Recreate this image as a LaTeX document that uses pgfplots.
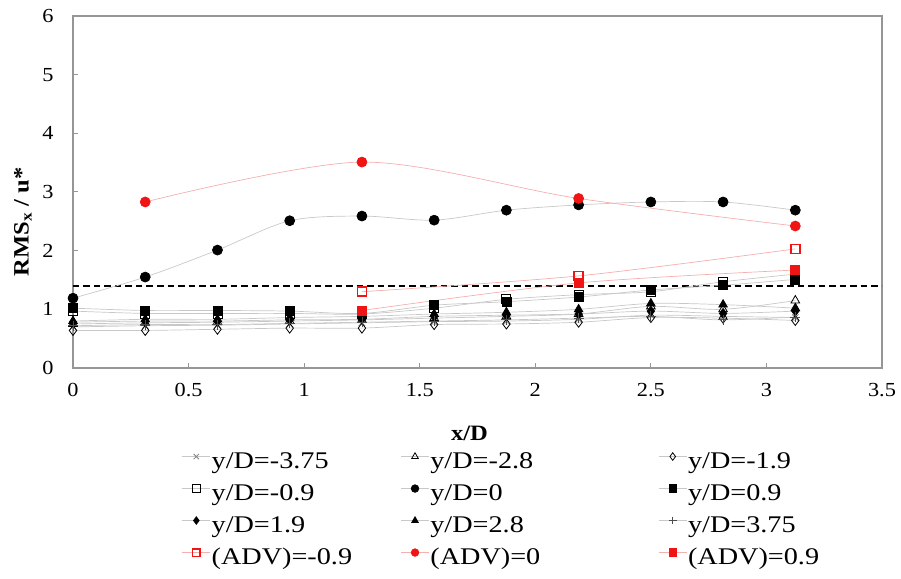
\documentclass[border=0pt]{standalone}
\usepackage{fontspec}
\setmainfont{Liberation Serif}[FakeStretch=1.12]
\newfontfamily\legfont{Liberation Serif}[FakeStretch=1.18]
\usepackage{pgfplots}
\pgfplotsset{compat=1.18}
\definecolor{lgray}{RGB}{200,200,200}
\definecolor{pinkl}{RGB}{245,175,175}
\definecolor{axgray}{RGB}{150,150,150}
\definecolor{advred}{RGB}{240,20,20}
\newcommand{\ca}[1]{\makebox[188bp][l]{#1}}
\newcommand{\cb}[1]{\makebox[227bp][l]{#1}}
\begin{document}
\begin{tikzpicture}
\begin{axis}[
  name=ax, scale only axis, width=809bp, height=352bp,
  xmin=0, xmax=3.5, ymin=0, ymax=6,
  xtick={0,0.5,1,1.5,2,2.5,3,3.5}, ytick={0,1,2,3,4,5,6},
  xticklabels={0,0.5,1,1.5,2,2.5,3,3.5},
  xtick pos=bottom, ytick pos=left, tick align=inside,
  major tick length=5bp,
  axis line style={axgray, line width=1.2bp},
  every tick/.style={axgray, line width=1bp},
  tick label style={font=\fontsize{20}{24}\selectfont},
  /pgf/number format/assume math mode=true,
  xticklabel style={yshift=-12bp},
  yticklabel style={xshift=-16bp},
  xlabel={x/D}, ylabel={RMS\textsubscript{x} / u*},
  label style={font=\fontsize{22}{26}\selectfont\bfseries},
  xlabel style={at={(axis description cs:0.49,-0.185)}, anchor=center},
  ylabel style={at={(axis description cs:-0.062,0.415)}, anchor=center},
  legend columns=3,
  legend cell align=left,
  legend style={draw=none, fill=none, at={(axis description cs:0.1347,-0.226)}, anchor=north west,
    inner sep=0pt, outer sep=0pt, column sep=0pt, row sep=0pt,
    font=\legfont\fontsize{24}{28}\selectfont,
    nodes={inner xsep=1bp, inner ysep=4bp, text height=17bp, text depth=7bp}},
  legend image code/.code={\draw[#1, mark repeat=2, mark phase=2, mark size=3.8bp] plot coordinates {(0bp,7bp) (14bp,7bp) (28bp,7bp)};},
]
\addplot[black, line width=2.2bp, dash pattern=on 6.5bp off 4bp, forget plot] coordinates {(0,1.4) (3.5,1.4)};

% y/D=-3.75
\addplot[lgray, line width=0.7bp, smooth, mark=x, mark size=4.5bp, mark options={draw=gray, solid, line width=0.8bp}] coordinates {
(0,0.70) (0.3125,0.72) (0.625,0.73) (0.9375,0.75) (1.25,0.77) (1.5625,0.79) (1.875,0.80) (2.1875,0.83) (2.5,0.90) (2.8125,0.88) (3.125,0.86)};
\addlegendentry{\ca{y/D=-3.75}}
% y/D=-2.8
\addplot[lgray, line width=0.7bp, smooth, mark=triangle, mark size=5bp, mark options={draw=black, fill=white, solid, line width=0.8bp}] coordinates {
(0,0.75) (0.3125,0.77) (0.625,0.78) (0.9375,0.80) (1.25,0.82) (1.5625,0.85) (1.875,0.88) (2.1875,0.92) (2.5,1.05) (2.8125,1.00) (3.125,1.15)};
\addlegendentry{\cb{y/D=-2.8}}
% y/D=-1.9
\addplot[lgray, line width=0.7bp, smooth, mark=diamond, mark size=5bp, mark options={draw=black, fill=white, solid, line width=0.8bp}] coordinates {
(0,0.64) (0.3125,0.64) (0.625,0.66) (0.9375,0.68) (1.25,0.68) (1.5625,0.74) (1.875,0.75) (2.1875,0.78) (2.5,0.86) (2.8125,0.85) (3.125,0.81)};
\addlegendentry{y/D=-1.9}
% y/D=-0.9
\addplot[lgray, line width=0.7bp, smooth, mark=square, mark size=4.5bp, mark options={draw=black, fill=white, solid, line width=0.8bp}] coordinates {
(0,0.97) (0.3125,0.93) (0.625,0.93) (0.9375,0.93) (1.25,0.92) (1.5625,1.02) (1.875,1.17) (2.1875,1.25) (2.5,1.30) (2.8125,1.47) (3.125,1.60)};
\addlegendentry{\ca{y/D=-0.9}}
% y/D=0
\addplot[lgray, line width=0.7bp, smooth, mark=*, mark size=5bp, mark options={draw=black, fill=black, solid}] coordinates {
(0,1.19) (0.3125,1.55) (0.625,2.01) (0.9375,2.51) (1.25,2.59) (1.5625,2.52) (1.875,2.69) (2.1875,2.78) (2.5,2.83) (2.8125,2.83) (3.125,2.69)};
\addlegendentry{\cb{y/D=0}}
% y/D=0.9
\addplot[lgray, line width=0.7bp, smooth, mark=square*, mark size=4.5bp, mark options={draw=black, fill=black, solid}] coordinates {
(0,1.02) (0.3125,0.98) (0.625,0.98) (0.9375,0.97) (1.25,0.93) (1.5625,1.07) (1.875,1.13) (2.1875,1.21) (2.5,1.33) (2.8125,1.41) (3.125,1.51)};
\addlegendentry{y/D=0.9}
% y/D=1.9
\addplot[lgray, line width=0.7bp, smooth, mark=diamond*, mark size=5bp, mark options={draw=black, fill=black, solid}] coordinates {
(0,0.78) (0.3125,0.80) (0.625,0.80) (0.9375,0.82) (1.25,0.83) (1.5625,0.88) (1.875,0.90) (2.1875,0.92) (2.5,0.97) (2.8125,0.93) (3.125,0.97)};
\addlegendentry{\ca{y/D=1.9}}
% y/D=2.8
\addplot[lgray, line width=0.7bp, smooth, mark=triangle*, mark size=5bp, mark options={draw=black, fill=black, solid}] coordinates {
(0,0.80) (0.3125,0.83) (0.625,0.83) (0.9375,0.86) (1.25,0.88) (1.5625,0.92) (1.875,0.95) (2.1875,1.00) (2.5,1.10) (2.8125,1.08) (3.125,1.02)};
\addlegendentry{\cb{y/D=2.8}}
% y/D=3.75
\addplot[lgray, line width=0.7bp, smooth, mark=+, mark size=5bp, mark options={draw=black!70, solid, line width=0.8bp}] coordinates {
(0,0.72) (0.3125,0.74) (0.625,0.74) (0.9375,0.76) (1.25,0.78) (1.5625,0.80) (1.875,0.82) (2.1875,0.85) (2.5,0.88) (2.8125,0.82) (3.125,0.87)};
\addlegendentry{y/D=3.75}
% ADV -0.9
\addplot[pinkl, line width=0.7bp, smooth, mark=square, mark size=4.5bp, mark options={draw=advred, fill=white, solid, line width=1.6bp}] coordinates {
(1.25,1.30) (2.1875,1.57) (3.125,2.03)};
\addlegendentry{\ca{(ADV)=-0.9}}
% ADV 0
\addplot[pinkl, line width=0.7bp, smooth, mark=*, mark size=5bp, mark options={draw=advred, fill=advred, solid}] coordinates {
(0.3125,2.83) (1.25,3.51) (2.1875,2.89) (3.125,2.42)};
\addlegendentry{\cb{(ADV)=0}}
% ADV 0.9
\addplot[pinkl, line width=0.7bp, smooth, mark=square*, mark size=4.5bp, mark options={draw=advred, fill=advred, solid}] coordinates {
(1.25,0.98) (2.1875,1.45) (3.125,1.67)};
\addlegendentry{(ADV)=0.9}
\end{axis}
\pgfresetboundingbox
\path[use as bounding box] ([shift={(-73bp,-211bp)}]ax.south west) rectangle ([shift={(19bp,16bp)}]ax.north east);
\end{tikzpicture}
\end{document}
